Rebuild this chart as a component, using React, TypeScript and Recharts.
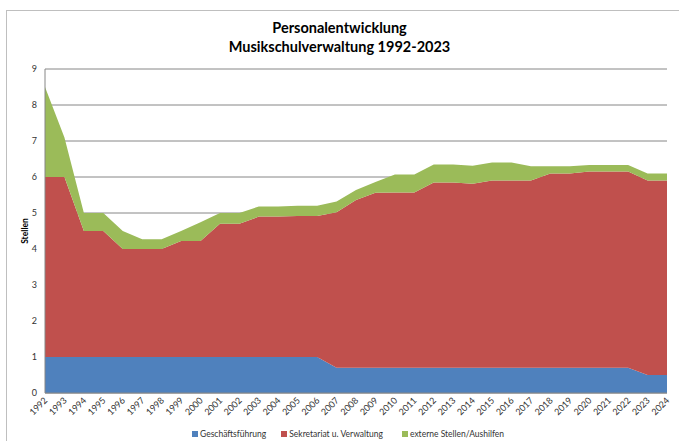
import React from 'react';
import { AreaChart, Area, XAxis, YAxis, CartesianGrid } from 'recharts';

// Stellen per year
const years = [
  '1992', '1993', '1994', '1995', '1996', '1997', '1998', '1999', '2000', '2001', '2002',
  '2003', '2004', '2005', '2006', '2007', '2008', '2009', '2010', '2011', '2012', '2013',
  '2014', '2015', '2016', '2017', '2018', '2019', '2020', '2021', '2022', '2023', '2024',
];

const geschaeftsfuehrung = [
  1, 1, 1, 1, 1, 1, 1, 1, 1, 1, 1,
  1, 1, 1, 1, 0.7, 0.7, 0.7, 0.7, 0.7, 0.7, 0.7,
  0.7, 0.7, 0.7, 0.7, 0.7, 0.7, 0.7, 0.7, 0.7, 0.5, 0.5,
];

const sekretariat = [
  5, 5, 3.5, 3.5, 3, 3, 3, 3.22, 3.22, 3.7, 3.7,
  3.9, 3.9, 3.92, 3.92, 4.32, 4.66, 4.86, 4.87, 4.87, 5.15, 5.15,
  5.11, 5.2, 5.2, 5.2, 5.4, 5.4, 5.45, 5.45, 5.45, 5.4, 5.4,
];

const externe = [
  2.5, 1.1, 0.5, 0.5, 0.5, 0.27, 0.27, 0.28, 0.52, 0.3, 0.3,
  0.28, 0.28, 0.28, 0.28, 0.3, 0.28, 0.3, 0.5, 0.5, 0.5, 0.5,
  0.5, 0.5, 0.5, 0.4, 0.2, 0.2, 0.18, 0.18, 0.18, 0.2, 0.2,
];

const yTicks = [0, 1, 2, 3, 4, 5, 6, 7, 8, 9];

const SERIES = [
  { key: 'gf', name: 'Geschäftsführung', color: '#4F81BD' },
  { key: 'sv', name: 'Sekretariat u. Verwaltung', color: '#C0504D' },
  { key: 'ex', name: 'externe Stellen/Aushilfen', color: '#9BBB59' },
];

const FONT = 'Lato, "DejaVu Sans", sans-serif';

const data = years.map((year, i) => ({
  year,
  gf: geschaeftsfuehrung[i],
  sv: sekretariat[i],
  ex: externe[i],
}));

const XTick = (props: any) => {
  const { x, y, payload } = props;
  const tx = x + 3;
  const ty = y + 8;
  return (
    <text
      x={tx}
      y={ty}
      transform={`rotate(-45 ${tx} ${ty})`}
      textAnchor="end"
      fontSize={9}
      fontFamily={FONT}
      fill="#333"
    >
      {payload.value}
    </text>
  );
};

export default function App() {
  return (
    <div style={{ position: 'absolute', left: 0, top: 0, width: 679, height: 441, overflow: 'hidden', background: '#fff' }}>
      {/* chart frame */}
      <div style={{ position: 'absolute', left: 6, top: 10, width: 720, height: 480, border: '1px solid #bfbfbf' }} />

      <div
        style={{
          position: 'absolute', left: 0, top: 18, width: 679, textAlign: 'center',
          fontFamily: FONT, fontWeight: 'bold', fontSize: 14.5, lineHeight: '19px', color: '#000',
        }}
      >
        Personalentwicklung
        <br />
        Musikschulverwaltung 1992-2023
      </div>

      <div style={{ position: 'absolute', left: 0, top: 0 }}>
        <AreaChart width={679} height={441} data={data} margin={{ top: 69, right: 12, left: 0, bottom: 0 }}>
          <CartesianGrid vertical={false} stroke="#868686" strokeWidth={1} />
          <XAxis
            dataKey="year"
            interval={0}
            height={48}
            tickSize={0}
            tickMargin={0}
            tickLine={false}
            axisLine={{ stroke: '#868686' }}
            tick={<XTick />}
          />
          <YAxis
            width={45}
            domain={[0, 9]}
            ticks={yTicks}
            interval={0}
            tickLine={false}
            tickSize={6}
            tickMargin={2}
            axisLine={{ stroke: '#868686' }}
            tick={{ fontSize: 9, fontFamily: FONT, fill: '#333' }}
            label={{
              value: 'Stellen', angle: -90, position: 'center', dx: 2,
              style: { fontSize: 8.5, fontWeight: 'bold', fontFamily: FONT, fill: '#000' },
            }}
          />
          {SERIES.map((s) => (
            <Area
              key={s.key}
              dataKey={s.key}
              name={s.name}
              stackId="1"
              type="linear"
              stroke="none"
              fill={s.color}
              fillOpacity={1}
              isAnimationActive={false}
            />
          ))}
        </AreaChart>
      </div>

      {/* legend */}
      <div
        style={{
          position: 'absolute', left: 192, top: 429, display: 'flex', gap: 0,
          fontFamily: FONT, fontSize: 8.5, color: '#333', whiteSpace: 'nowrap',
        }}
      >
        {SERIES.map((s, i) => (
          <div key={s.key} style={{ display: 'flex', alignItems: 'center', marginRight: i === 0 ? 15 : 19 }}>
            <span style={{ display: 'inline-block', width: 6, height: 6, background: s.color, marginRight: 2 }} />
            {s.name}
          </div>
        ))}
      </div>
    </div>
  );
}
